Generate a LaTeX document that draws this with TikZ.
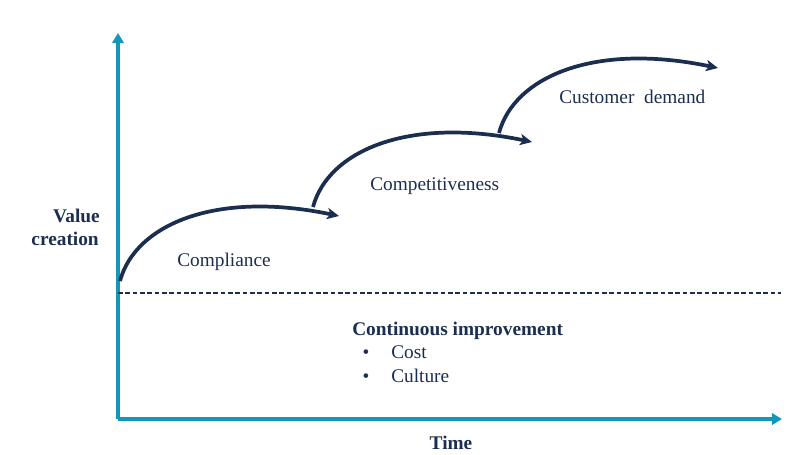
\documentclass[tikz,border=0pt]{standalone}
\usepackage{fontspec}
\setmainfont{Liberation Serif}
\usetikzlibrary{arrows.meta,calc}
\definecolor{axisteal}{HTML}{1297BA}
\definecolor{navy}{HTML}{1C2E50}
\tikzset{
  axisline/.style={draw=axisteal, line width=3pt, -{Triangle[length=7.5pt,width=8.5pt]}},
  steparc/.style={draw=navy, line width=2.8pt, -{Stealth[length=9pt,width=8.5pt,inset=2.5pt]}},
  dashline/.style={draw=navy, line width=1pt, dash pattern=on 3.5pt off 2pt},
  lbl/.style={text=navy, font=\fontsize{14.5}{17}\selectfont, inner sep=0pt},
  blbl/.style={lbl, font=\fontsize{14.5}{17}\selectfont\bfseries}
}
\begin{document}
\begin{tikzpicture}[x=0.75pt,y=-0.75pt]
\useasboundingbox (0,0) rectangle (807,454);
% axes
\coordinate (origin) at (118,419);
\coordinate (ytip) at (118,33);
\coordinate (xtip) at (782,419);
\draw[axisline] (origin) -- (ytip);
\draw[axisline] (origin) -- (xtip);
% dashed baseline
\coordinate (dashL) at (118,293);
\coordinate (dashR) at (781,293);
\draw[dashline] (dashL) -- (dashR);
% arcs
\coordinate (a1s) at (120,281);
\coordinate (a1e) at (339,216);
\coordinate (a2s) at (313,207);
\coordinate (a2e) at (532,142);
\coordinate (a3s) at (499,133);
\coordinate (a3e) at (718,68);
\draw[steparc] (a1s) .. controls ($(a1s)+(15,-56)$) and ($(a1s)+(95,-91)$) .. (a1e);
\draw[steparc] (a2s) .. controls ($(a2s)+(15,-56)$) and ($(a2s)+(95,-91)$) .. (a2e);
\draw[steparc] (a3s) .. controls ($(a3s)+(15,-56)$) and ($(a3s)+(95,-91)$) .. (a3e);
% labels
\node[lbl, anchor=base west] (compliance) at (177,266) {Compliance};
\node[lbl, anchor=base west] (compet) at (370,190) {Competitiveness};
\node[lbl, anchor=base west] (customer) at (559,103) {Customer\hspace{0.25em} demand};
\node[blbl, anchor=base east] (value) at (100,222) {Value};
\node[blbl, anchor=base east] (creation) at (99,245) {creation};
\node[blbl, anchor=base] (time) at (451,449) {Time};
\node[blbl, anchor=base west] (ci) at (352,335) {Continuous improvement};
\node[lbl, anchor=base] (b1) at (366,358) {•};
\node[lbl, anchor=base west] (cost) at (391,358) {Cost};
\node[lbl, anchor=base] (b2) at (366,382) {•};
\node[lbl, anchor=base west] (culture) at (391,382) {Culture};
\end{tikzpicture}
\end{document}
